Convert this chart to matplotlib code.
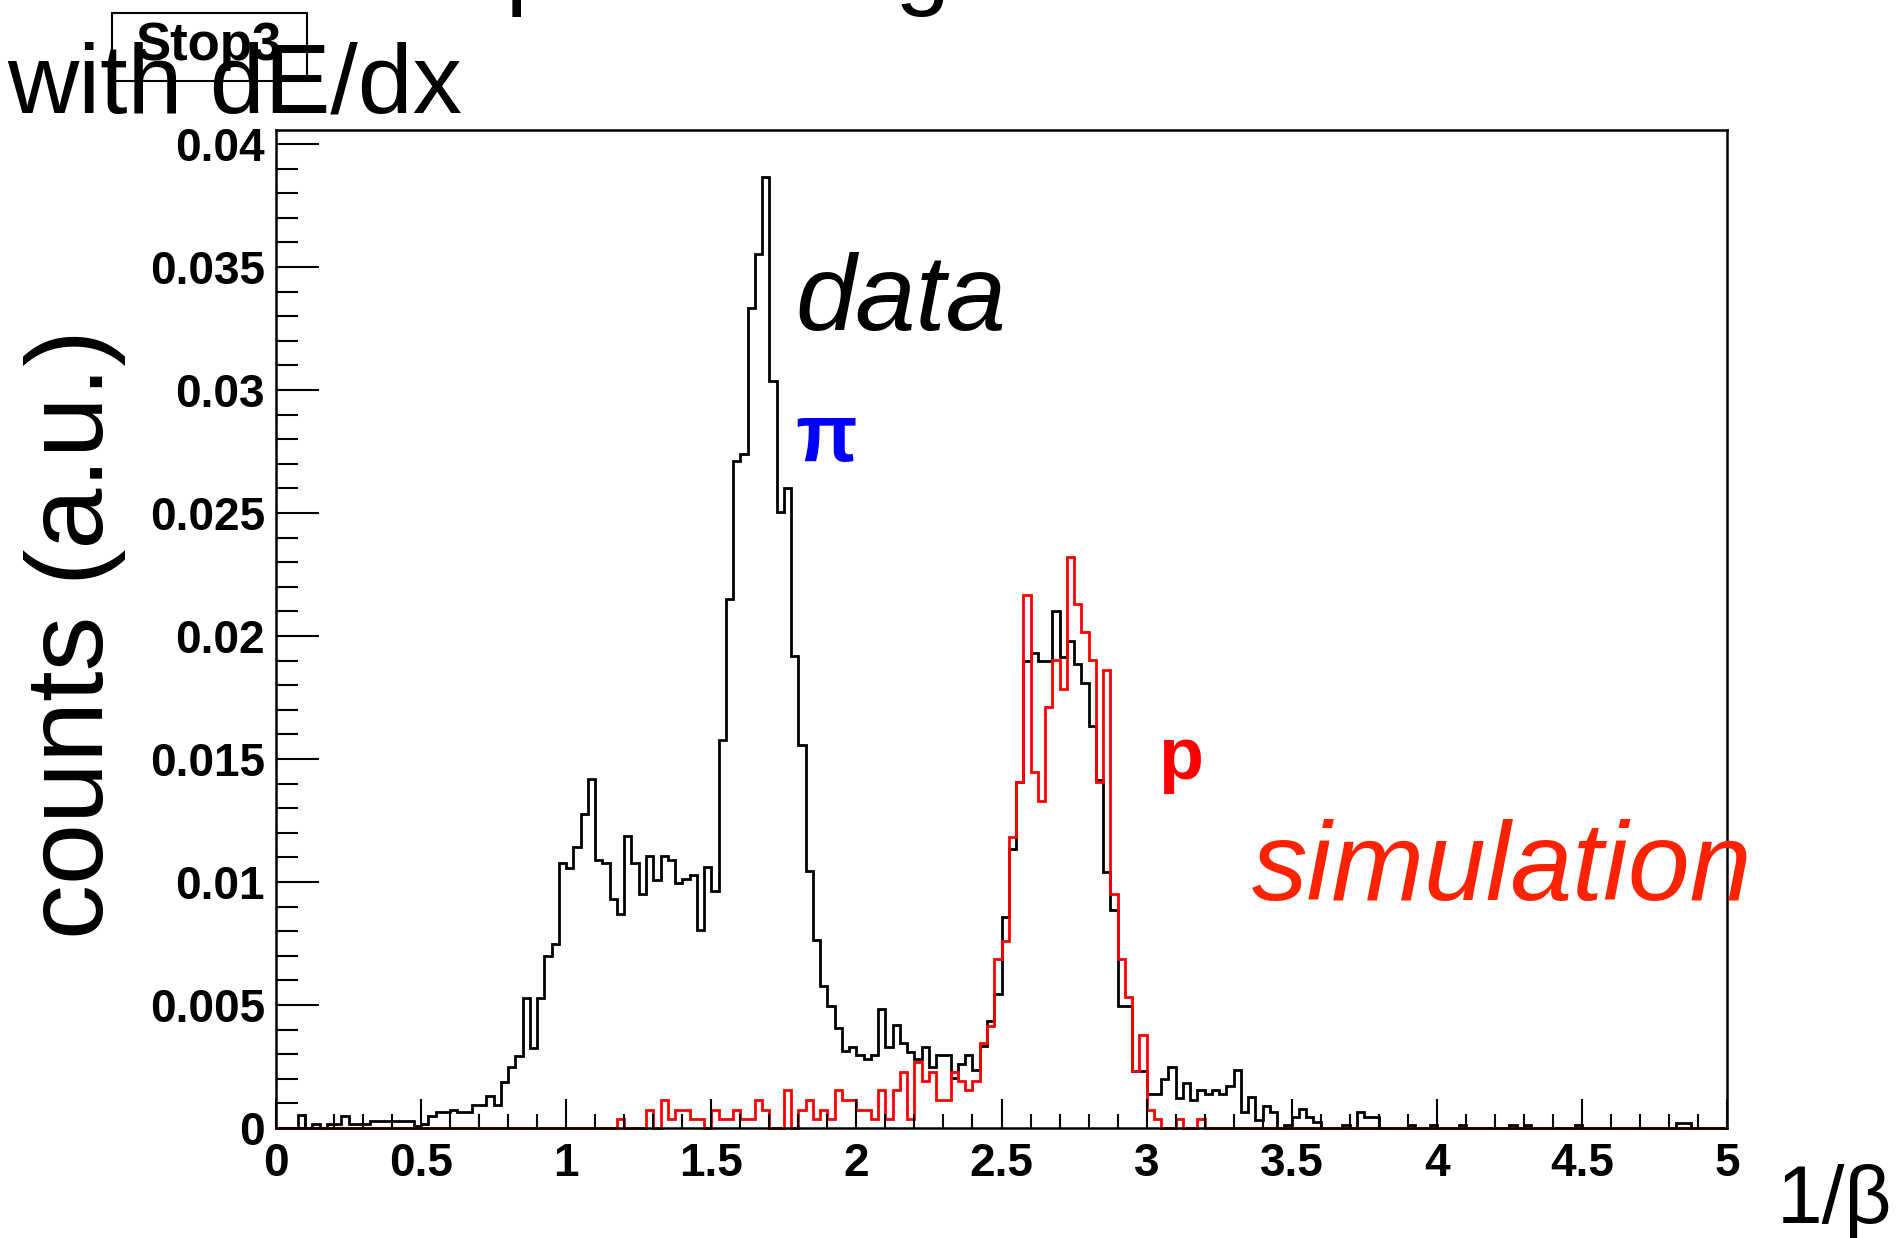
import matplotlib
matplotlib.use("Agg")
import matplotlib.pyplot as plt
import numpy as np

plt.rcParams["font.family"] = ["Liberation Sans", "DejaVu Sans"]

# 200 bins of 1/beta between 0 and 5
bin_edges = np.linspace(0, 5, 201)

data_counts = [
    0, 0, 0, 0.00052, 0, 0.00018, 0, 0.00018, 0.00018, 0.00047,
    0.00018, 0.00018, 0.00018, 0.0003, 0.0003, 0.0003, 0.0003, 0.0003, 0.0003, 0.00007,
    0.00018, 0.00047, 0.00064, 0.00064, 0.00075, 0.00064, 0.00064, 0.00095, 0.00095, 0.00129,
    0.00095, 0.00187, 0.00248, 0.00294, 0.00528, 0.00325, 0.00528, 0.0070, 0.00748, 0.01077,
    0.01057, 0.01141, 0.01278, 0.0142, 0.01091, 0.01077, 0.00931, 0.0087, 0.01186, 0.01077,
    0.00951, 0.01107, 0.0101, 0.01107, 0.01091, 0.00996, 0.01014, 0.0103, 0.00806, 0.0106,
    0.00965, 0.01576, 0.0215, 0.0271, 0.0274, 0.03335, 0.03553, 0.03867, 0.03038, 0.02505,
    0.026, 0.01918, 0.01558, 0.01044, 0.00763, 0.00577, 0.00497, 0.00406, 0.00312, 0.00328,
    0.00298, 0.00282, 0.00298, 0.00484, 0.00328, 0.00418, 0.00345, 0.00307, 0.00282, 0.00328,
    0.00249, 0.00298, 0.00298, 0.00202, 0.00262, 0.00298, 0.00235, 0.00335, 0.00435, 0.00544,
    0.00859, 0.01134, 0.01408, 0.019, 0.01932, 0.019, 0.019, 0.02103, 0.01916, 0.01978,
    0.01885, 0.01807, 0.01633, 0.01416, 0.01041, 0.00887, 0.00497, 0.00497, 0.0023, 0.0023,
    0.00138, 0.00138, 0.002, 0.00247, 0.00122, 0.00183, 0.00112, 0.00156, 0.00138, 0.00156,
    0.00138, 0.00172, 0.00234, 0.00064, 0.00126, 0.00031, 0.00091, 0.00064, 0, 0.00014,
    0.00045, 0.00077, 0.00045, 0.00023, 0, 0, 0, 0.00014, 0, 0.00064,
    0.00045, 0.00045, 0, 0, 0, 0, 0.00014, 0, 0, 0.00014,
    0, 0, 0, 0.00014, 0, 0, 0, 0, 0, 0,
    0.00014, 0, 0.00014, 0, 0, 0, 0, 0, 0, 0.00014,
    0, 0, 0, 0, 0, 0, 0, 0, 0, 0,
    0, 0, 0, 0.0002, 0.0002, 0, 0, 0, 0, 0,
]

sim_counts = [
    0, 0, 0, 0, 0, 0, 0, 0, 0, 0,
    0, 0, 0, 0, 0, 0, 0, 0, 0, 0,
    0, 0, 0, 0, 0, 0, 0, 0, 0, 0,
    0, 0, 0, 0, 0, 0, 0, 0, 0, 0,
    0, 0, 0, 0, 0, 0, 0, 0.00035, 0, 0,
    0, 0.00075, 0, 0.00112, 0.00035, 0.00075, 0.00075, 0.00035, 0.00035, 0,
    0.00075, 0.00035, 0.00035, 0.00075, 0.00035, 0.00035, 0.00112, 0.00075, 0, 0,
    0.00153, 0, 0.00075, 0.00113, 0.00038, 0.00075, 0.00038, 0.00153, 0.00113, 0.00113,
    0.00075, 0.00075, 0.00038, 0.00153, 0.00038, 0.00153, 0.00229, 0.00038, 0.00269, 0.00191,
    0.00229, 0.00113, 0.00113, 0.00229, 0.00191, 0.00153, 0.00191, 0.00345, 0.00416, 0.00688,
    0.00761, 0.01181, 0.01408, 0.02168, 0.01447, 0.0133, 0.01713, 0.01904, 0.01784, 0.0232,
    0.0213, 0.02017, 0.01904, 0.01408, 0.01862, 0.0095, 0.00685, 0.00533, 0.0023, 0.00378,
    0.00075, 0.00038, 0, 0, 0.00038, 0, 0, 0.00038, 0, 0,
    0, 0, 0, 0, 0, 0, 0, 0, 0, 0,
    0, 0, 0, 0, 0, 0, 0, 0, 0, 0,
    0, 0, 0, 0, 0, 0, 0, 0, 0, 0,
    0, 0, 0, 0, 0, 0, 0, 0, 0, 0,
    0, 0, 0, 0, 0, 0, 0, 0, 0, 0,
    0, 0, 0, 0, 0, 0, 0, 0, 0, 0,
    0, 0, 0, 0, 0, 0, 0, 0, 0, 0,
]

x_ticks = [0, 0.5, 1, 1.5, 2, 2.5, 3, 3.5, 4, 4.5, 5]
x_labels = ["0", "0.5", "1", "1.5", "2", "2.5", "3", "3.5", "4", "4.5", "5"]
y_ticks = [0, 0.005, 0.01, 0.015, 0.02, 0.025, 0.03, 0.035, 0.04]
y_labels = ["0", "0.005", "0.01", "0.015", "0.02", "0.025", "0.03", "0.035", "0.04"]

W, H = 1902, 1238
fig = plt.figure(figsize=(W / 100, H / 100), dpi=100)
ax = fig.add_axes([276 / W, 1 - 1128 / H, (1727 - 276) / W, (1128 - 130) / H])

ax.stairs(data_counts, bin_edges, color="black", linewidth=2.0, baseline=0, clip_on=False)
ax.stairs(sim_counts, bin_edges, color="#ff0000", linewidth=2.0, baseline=0, clip_on=False)

ax.set_xlim(0, 5)
ax.set_ylim(0, 0.04057)

ax.set_xticks(x_ticks)
ax.set_xticklabels(x_labels)
ax.set_yticks(y_ticks)
ax.set_yticklabels(y_labels)
ax.set_xticks(np.arange(0, 5.001, 0.1), minor=True)
ax.set_yticks(np.arange(0, 0.0405, 0.001), minor=True)

ax.tick_params(which="both", direction="in", top=False, right=False, width=1.5)
ax.tick_params(axis="x", which="major", length=21, pad=10)
ax.tick_params(axis="x", which="minor", length=10)
ax.tick_params(axis="y", which="major", length=31, pad=8)
ax.tick_params(axis="y", which="minor", length=16)
for lab in ax.get_xticklabels() + ax.get_yticklabels():
    lab.set_fontsize(33)
    lab.set_fontweight("bold")
for sp in ax.spines.values():
    sp.set_linewidth(1.8)

# annotations inside the frame
ax.text(795 / W, 1 - 330 / H, "data", transform=fig.transFigure, fontsize=78,
        style="italic", color="black", va="baseline", ha="left")
ax.text(826 / W, 1 - 440 / H, "π", transform=fig.transFigure, fontsize=58,
        fontweight="bold", color="#0000ff", va="center", ha="center")
ax.text(1158 / W, 1 - 779 / H, "p", transform=fig.transFigure, fontsize=53,
        fontweight="bold", color="#ff0000", va="baseline", ha="left")
fig.text(1252 / W, 1 - 900 / H, "simulation", fontsize=80, style="italic",
         color="#ff2200", va="baseline", ha="left")

# axis titles
fig.text(75 / W, 1 - 634 / H, "counts (a.u.)", fontsize=79, rotation=90,
         va="center", ha="center")
fig.text(1892 / W, 1 - 1223 / H, "1/β", fontsize=59, va="baseline", ha="right")

# title: first line sits above the top edge, only its descenders show
fig.text(-26 / W, 1 + 3 / H, "Events with proton tag", fontsize=71, va="baseline", ha="left")
fig.text(7 / W, 1 - 113 / H, "with dE/dx", fontsize=71, va="baseline", ha="left")

# histogram name box
box = plt.Rectangle((112 / W, 1 - 81 / H), (307 - 112) / W, (81 - 13) / H,
                    transform=fig.transFigure, fill=False, edgecolor="black", linewidth=1.5)
fig.add_artist(box)
fig.text(209 / W, 1 - 46 / H, "Stop3", fontsize=38, fontweight="bold",
         va="center", ha="center")

fig.savefig("out.png", dpi=100)
